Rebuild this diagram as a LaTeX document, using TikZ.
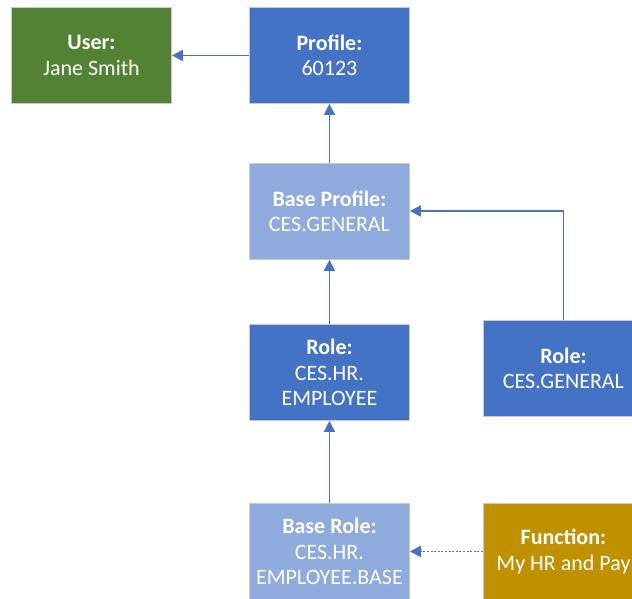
\documentclass[tikz,border=0pt]{standalone}
\usepackage{fontspec}
\setmainfont{Carlito}
\usetikzlibrary{arrows.meta}
\definecolor{dkblue}{HTML}{4472C4}
\definecolor{ltblue}{HTML}{8FAADC}
\definecolor{green}{HTML}{548235}
\definecolor{gold}{HTML}{BF9000}
\definecolor{edge}{HTML}{C9C9C9}
\tikzset{
  box/.style={draw=edge, line width=0.9pt, minimum width=160pt, minimum height=96pt,
    inner sep=0pt, align=center, text=white, font=\fontsize{22}{25.5}\selectfont, anchor=north west},
  link/.style={draw=dkblue, line width=1.8pt, -{Triangle[length=11pt,width=11pt]}},
}
\begin{document}
\begin{tikzpicture}[x=1pt,y=-1pt]
\useasboundingbox (0,0) rectangle (632,599);
\clip (0,0) rectangle (632,599);
\node[box, fill=green] (user) at (11,7) {\textbf{User:}\\Jane Smith};
\node[box, fill=dkblue] (prof) at (249,7) {\textbf{Profile:}\\60123};
\node[box, fill=ltblue] (bprof) at (249,163) {\textbf{Base Profile:}\\CES.GENERAL};
\node[box, fill=dkblue] (role) at (249,324) {\textbf{Role:}\\CES.HR.\\EMPLOYEE};
\node[box, fill=dkblue] (role2) at (483,320) {\textbf{Role:}\\CES.GENERAL};
\node[box, fill=ltblue] (brole) at (249,503) {\textbf{Base Role:}\\CES.HR.\\EMPLOYEE.BASE};
\node[box, fill=gold] (func) at (483,503) {\textbf{Function:}\\My HR and Pay};
\draw[link] (prof.west) -- (user.east);
\draw[link] (bprof.north) -- (prof.south);
\draw[link] (role.north) -- (bprof.south);
\draw[link] (brole.north) -- (role.south);
\draw[link] (role2.north) |- (bprof.east |- 0,211);
\draw[link, dash pattern=on 2pt off 1.6pt] (func.west) -- (brole.east);
\end{tikzpicture}
\end{document}
